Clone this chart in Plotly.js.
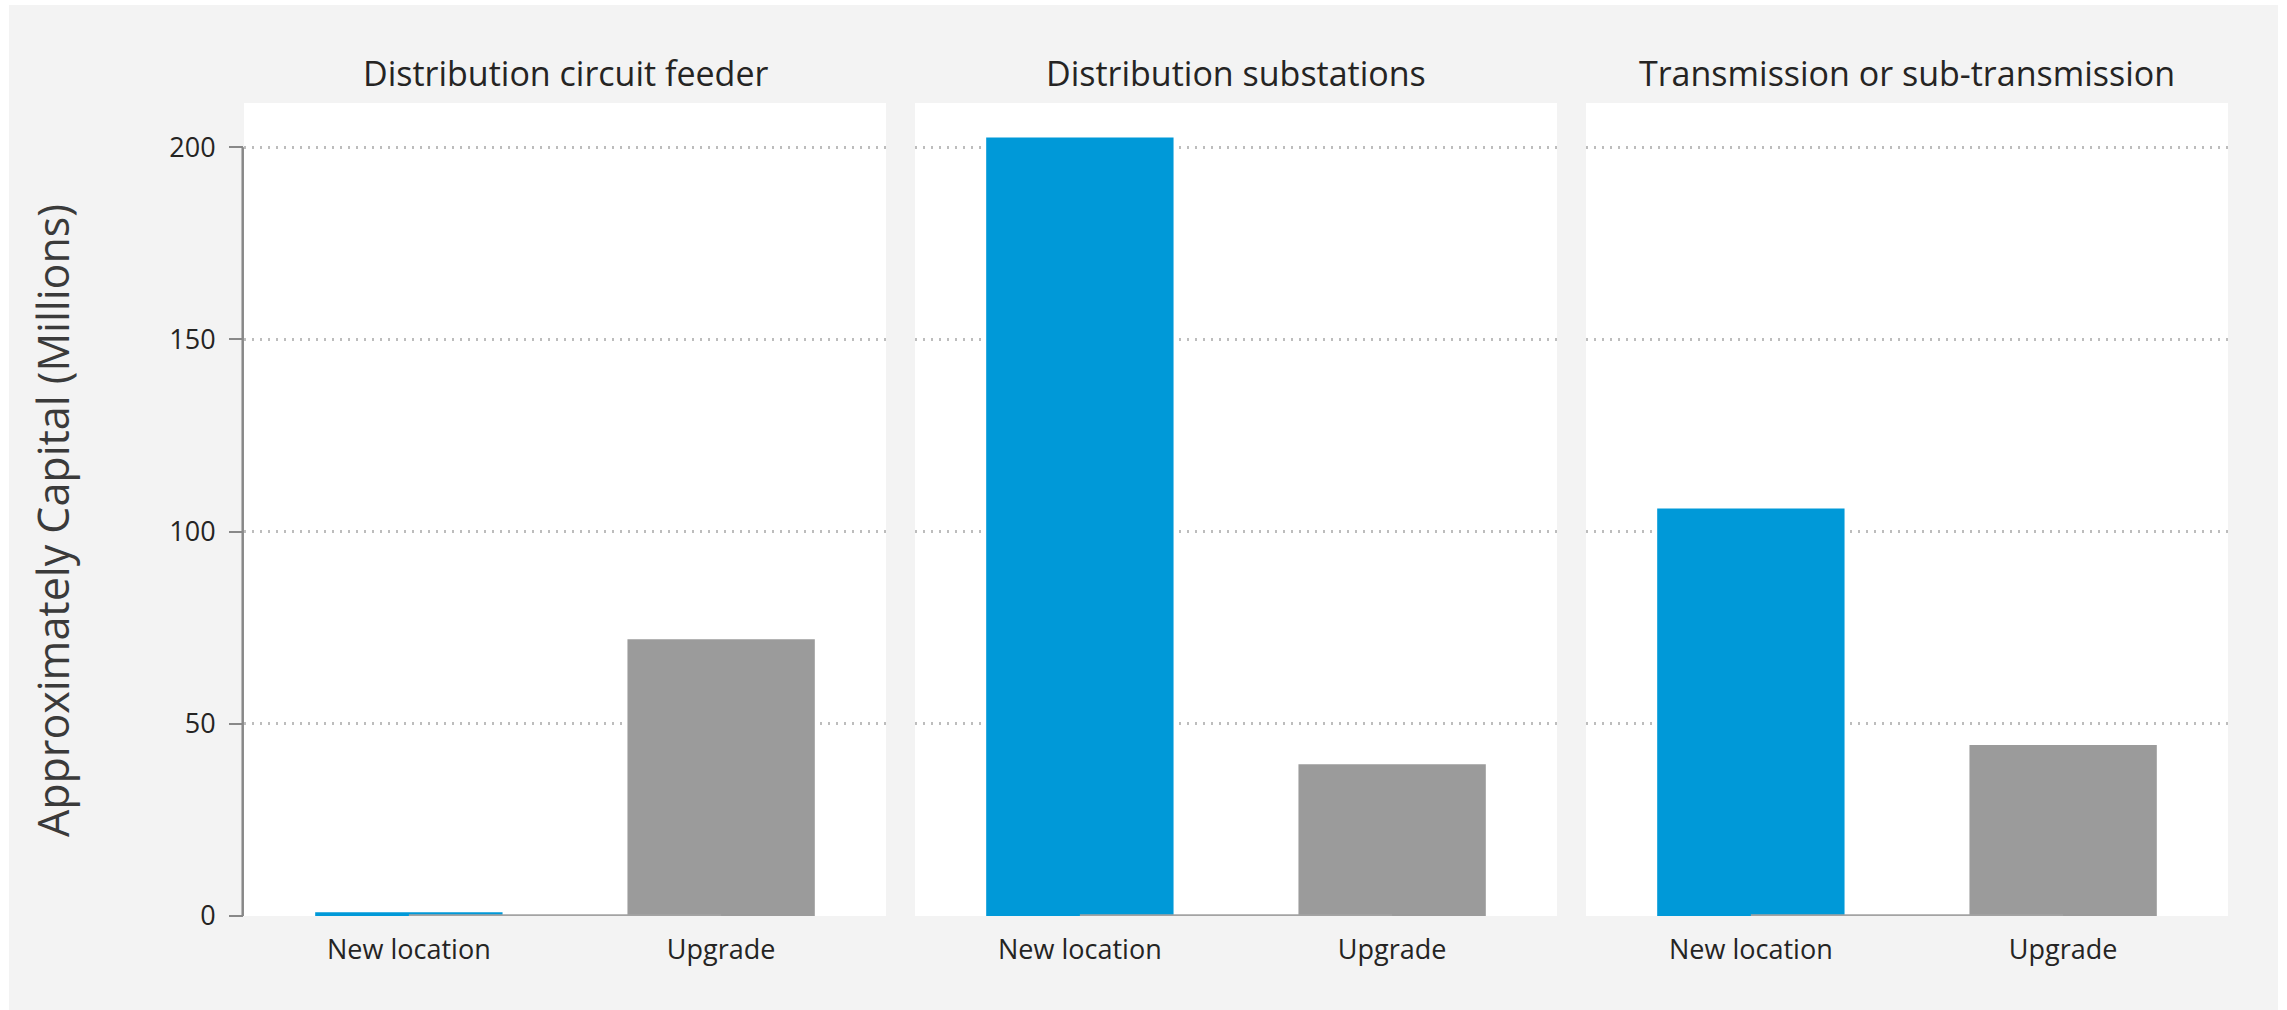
<!DOCTYPE html>
<html>
<head>
<meta charset="utf-8">
<script src="https://cdn.plot.ly/plotly-3.0.1.min.js"></script>
<style>
  html, body { margin: 0; padding: 0; background: #ffffff; }
  #chart { width: 2287px; height: 1010px; }
</style>
</head>
<body>
<div id="chart"></div>
<script>
// ---- data ----
const panels = ["Distribution circuit feeder", "Distribution substations", "Transmission or sub-transmission"];
const categories = ["New location", "Upgrade"];
const newLocationValues = [1, 202.5, 106];
const upgradeValues = [72, 39.5, 44.5];
const baselineSeries = [[0, 0], [0, 0], [0, 0]];
const yTicks = [0, 50, 100, 150, 200];
const yTitle = "Approximately Capital (Millions)";

// ---- styles ----
const BLUE = "#0099D8";
const GREY = "#9B9B9B";
const FONT = "'Open Sans', 'Noto Sans', sans-serif";
const W = 2287, H = 1010;
const xDomains = [[244 / W, 886 / W], [915 / W, 1557 / W], [1586 / W, 2228 / W]];
const yDomain = [1 - 916 / H, 1 - 103 / H];

const traces = [];
const white = { fillcolor: "#ffffff", line: { width: 0 }, layer: "above", xref: "paper", yref: "paper", type: "rect" };
const layout = {
  width: W, height: H,
  margin: { l: 0, r: 0, t: 0, b: 0 },
  paper_bgcolor: "#F3F3F3",
  plot_bgcolor: "#ffffff",
  showlegend: false,
  font: { family: FONT, color: "#252423" },
  annotations: [],
  shapes: [
    Object.assign({ x0: 0, x1: 1, y0: 1 - 5 / H, y1: 1 }, white),
    Object.assign({ x0: 0, x1: 9 / W, y0: 0, y1: 1 }, white),
    Object.assign({ x0: 2278 / W, x1: 1, y0: 0, y1: 1 }, white)
  ]
};

panels.forEach((name, i) => {
  const sfx = i === 0 ? "" : String(i + 1);
  const xa = "x" + sfx, ya = "y" + sfx;
  traces.push({
    type: "bar", x: categories, y: [newLocationValues[i], upgradeValues[i]],
    xaxis: xa, yaxis: ya, width: 0.6,
    marker: { color: [BLUE, GREY], line: { width: 0 } },
    hoverinfo: "x+y"
  });
  traces.push({
    type: "scatter", mode: "lines", x: categories, y: baselineSeries[i],
    xaxis: xa, yaxis: ya, line: { color: "#A3A3A3", width: 3.5 }, hoverinfo: "skip"
  });
  layout["xaxis" + sfx] = {
    domain: xDomains[i], anchor: ya, type: "category",
    range: [-0.528, 1.528],
    showgrid: false, zeroline: false, showline: false,
    ticks: "", ticklabelstandoff: 15,
    tickfont: { family: FONT, size: 27, color: "#252423" }
  };
  layout["yaxis" + sfx] = {
    domain: yDomain, anchor: xa,
    range: [0, 211.5],
    tickvals: yTicks,
    showgrid: true, gridcolor: "#BDBDBD", gridwidth: 2.5, griddash: "2px,6px",
    zeroline: false, showline: false,
    ticks: i === 0 ? "outside" : "", ticklen: 14, tickwidth: 2, tickcolor: "#888888",
    showticklabels: i === 0, ticklabelstandoff: 8,
    tickfont: { family: FONT, size: 27, color: "#252423" }
  };
  layout.annotations.push({
    text: name, xref: "paper", yref: "paper",
    x: (xDomains[i][0] + xDomains[i][1]) / 2, y: 1 - 73 / H,
    xanchor: "center", yanchor: "middle", showarrow: false,
    font: { family: FONT, size: 34, color: "#252423" }
  });
});

// y axis line (only spans the tick range on the first panel)
layout.shapes.push({
  type: "line", xref: "x domain", yref: "y", x0: -0.002, x1: -0.002,
  y0: yTicks[0], y1: yTicks[yTicks.length - 1],
  line: { color: "#888888", width: 2.5 }
});

layout.annotations.push({
  text: yTitle, xref: "paper", yref: "paper",
  x: 52 / W, y: 1 - 521 / H, xanchor: "center", yanchor: "middle",
  textangle: -90, showarrow: false,
  font: { family: FONT, size: 43, color: "#3A3A3A" }
});

Plotly.newPlot("chart", traces, layout, { displayModeBar: false });
</script>
</body>
</html>
